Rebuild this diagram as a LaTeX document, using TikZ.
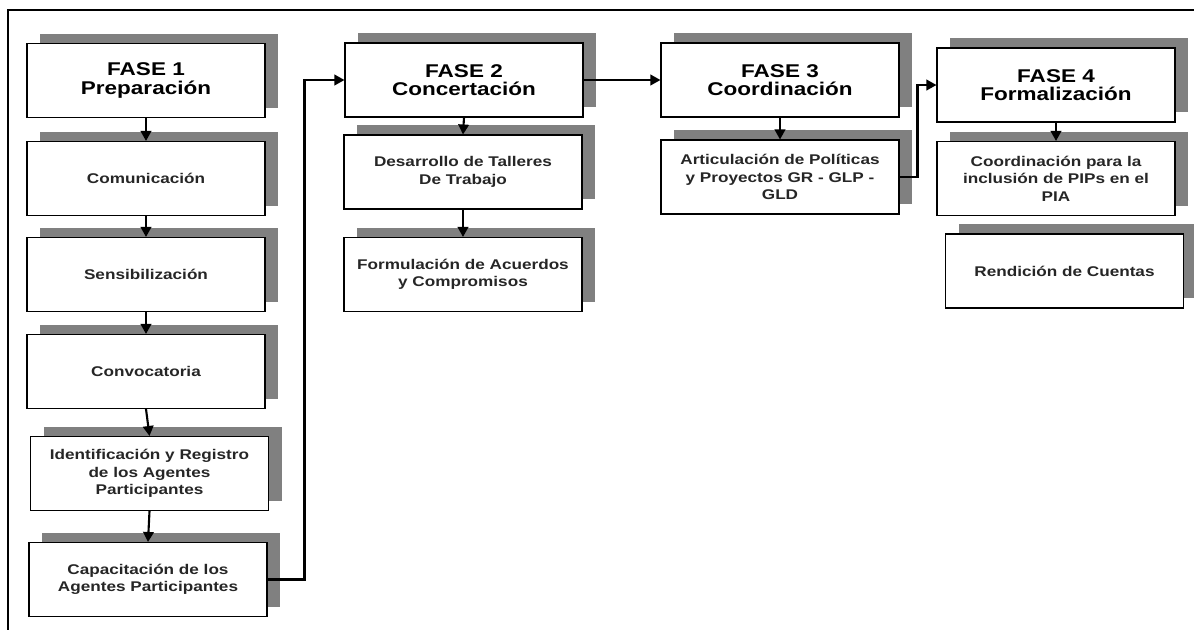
\documentclass[tikz,border=0pt]{standalone}
\usepackage{fontspec}
\setmainfont{Liberation Sans}[FakeStretch=1.22]
\usepackage{tikz}
\usetikzlibrary{shadows, arrows.meta}
\tikzstyle{fase}=[draw, rectangle, fill=white, line width=0.6pt, minimum width=4.76cm, minimum height=1.48cm, inner sep=0pt, align=center, font=\fontsize{10.5}{10.5}\selectfont\bfseries, drop shadow={shadow xshift=0.26cm, shadow yshift=0.2cm, fill=black!50, opacity=1}]
\tikzstyle{paso}=[fase, font=\fontsize{8}{10}\selectfont\bfseries, text=black!85]
\tikzstyle{flecha}=[->, line width=1.2pt]

\begin{document}
\begin{tikzpicture}[>={Triangle[length=2mm,width=2.1mm]}]
		\useasboundingbox (0,0) rectangle (23.88,-12.6);
		\draw[line width=1.6pt] (23.88,-0.2) -- (0.16,-0.2) -- (0.16,-12.6);
		% fase 1
		\node[fase] (F1) at (2.92,-1.61) {FASE 1\\Preparación};
		\node[paso] (Com) at (2.92,-3.57) {Comunicación};
		\node[paso] (Sen) at (2.92,-5.49) {Sensibilización};
		\node[paso] (Con) at (2.92,-7.43) {Convocatoria};
		\node[paso] (Ide) at (2.99,-9.47) {Identificación y Registro\\de los Agentes\\Participantes};
		\node[paso] (Cap) at (2.96,-11.59) {Capacitación de los\\Agentes Participantes};
		% fase 2
		\node[fase] (F2) at (9.28,-1.6) {FASE 2\\Concertación};
		\node[paso] (Des) at (9.26,-3.44) {Desarrollo de Talleres\\De Trabajo};
		\node[paso] (For) at (9.26,-5.49) {Formulación de Acuerdos\\y Compromisos};
		% fase 3
		\node[fase] (F3) at (15.6,-1.6) {FASE 3\\Coordinación};
		\node[paso] (Art) at (15.6,-3.54) {Articulación de Políticas\\y Proyectos GR - GLP -\\GLD};
		% fase 4
		\node[fase] (F4) at (21.12,-1.7) {FASE 4\\Formalización};
		\node[paso] (Coo) at (21.12,-3.57) {Coordinación para la\\inclusión de PIPs en el\\PIA};
		\node[paso] (Ren) at (21.29,-5.42) {Rendición de Cuentas};
		% flechas
		\draw[flecha] (F1.south) -- (Com.north);
		\draw[flecha] (Com.south) -- (Sen.north);
		\draw[flecha] (Sen.south) -- (Con.north);
		\draw[flecha] (Con.south) -- (Ide.north);
		\draw[flecha] (Ide.south) -- (Cap.north);
		\draw[flecha] (Cap.east) -- ++(0.74,0) |- (F2.west);
		\draw[flecha] (F2.south) -- (Des.north);
		\draw[flecha] (Des.south) -- (For.north);
		\draw[flecha] (F2.east) -- (F3.west);
		\draw[flecha] (F3.south) -- (Art.north);
		\draw[flecha] (Art.east) -- ++(0.36,0) |- (F4.west);
		\draw[flecha] (F4.south) -- (Coo.north);
	\end{tikzpicture}
\end{document}
